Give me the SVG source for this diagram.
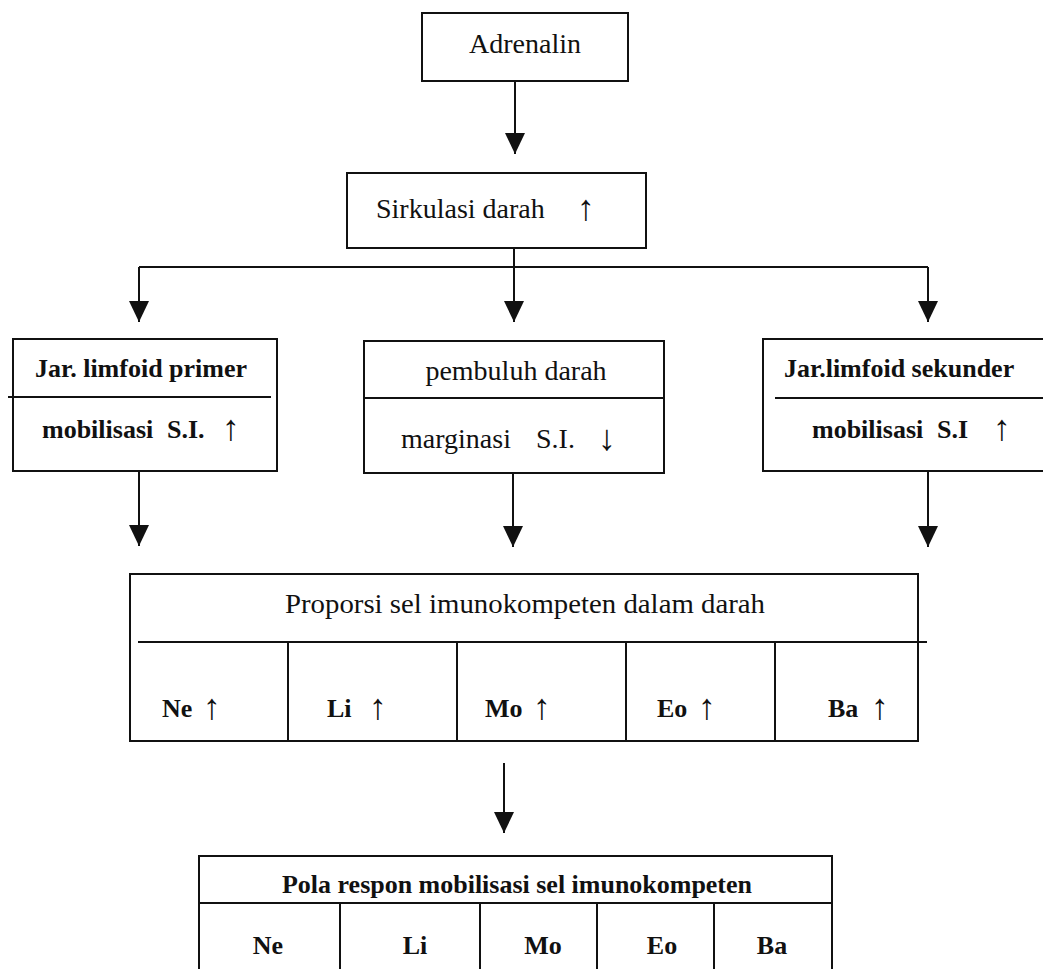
<svg xmlns="http://www.w3.org/2000/svg" width="1043" height="969" viewBox="0 0 1043 969">
<style>
.box{fill:none;stroke:#111;stroke-width:2}
.ln{stroke:#111;stroke-width:2;fill:none}
.t{font-family:"Liberation Serif","Times New Roman",serif;font-size:28px;fill:#111}
.b{font-family:"Liberation Serif","Times New Roman",serif;font-size:26px;font-weight:bold;fill:#111}
.ar{font-family:"Liberation Serif","DejaVu Serif",serif;font-size:36px;font-weight:normal;fill:#111}
.c{text-anchor:middle}
</style>
<defs>
<marker id="ah" markerUnits="userSpaceOnUse" markerWidth="21" markerHeight="20" refX="21" refY="10" orient="auto">
<path d="M0,0 L21,10 L0,20 z" fill="#111"/>
</marker>
</defs>
<rect width="1043" height="969" fill="#fff"/>

<g id="connectors">
<line class="ln" x1="515" y1="81" x2="515" y2="154" marker-end="url(#ah)"/>
<line class="ln" x1="514" y1="248" x2="514" y2="322" marker-end="url(#ah)"/>
<line class="ln" x1="139" y1="267" x2="928" y2="267"/>
<line class="ln" x1="139" y1="267" x2="139" y2="322" marker-end="url(#ah)"/>
<line class="ln" x1="928" y1="267" x2="928" y2="322" marker-end="url(#ah)"/>
<line class="ln" x1="139" y1="471" x2="139" y2="546" marker-end="url(#ah)"/>
<line class="ln" x1="513" y1="473" x2="513" y2="547" marker-end="url(#ah)"/>
<line class="ln" x1="928" y1="471" x2="928" y2="547" marker-end="url(#ah)"/>
<line class="ln" x1="504" y1="763" x2="504" y2="833" marker-end="url(#ah)"/>
</g>

<g id="adrenalin">
<rect class="box" x="422" y="13" width="206" height="68"/>
<text class="t c" x="525" y="53">Adrenalin</text>
</g>

<g id="sirkulasi">
<rect class="box" x="347" y="173" width="299" height="75"/>
<text class="t" x="376" y="218">Sirkulasi darah</text>
<text class="ar c" x="586" y="220">↑</text>
</g>

<g id="primer">
<rect class="box" x="13" y="339" width="264" height="132"/>
<line class="ln" x1="8" y1="397" x2="271" y2="397"/>
<text class="b" x="35" y="377">Jar. limfoid primer</text>
<text class="b" x="42" y="438">mobilisasi</text>
<text class="b" x="167" y="438">S.I.</text>
<text class="ar c" x="231" y="440">↑</text>
</g>

<g id="pembuluh">
<rect class="box" x="364" y="341" width="300" height="132"/>
<line class="ln" x1="364" y1="398" x2="664" y2="398"/>
<text class="t c" x="516" y="380">pembuluh darah</text>
<text class="t" x="401" y="448">marginasi</text>
<text class="t" x="536" y="448">S.I.</text>
<text class="ar c" x="607" y="450">↓</text>
</g>

<g id="sekunder">
<rect class="box" x="763" y="339" width="290" height="132"/>
<line class="ln" x1="775" y1="398" x2="1043" y2="398"/>
<text class="b" x="784" y="377">Jar.limfoid sekunder</text>
<text class="b" x="812" y="438">mobilisasi</text>
<text class="b" x="937" y="438">S.I</text>
<text class="ar c" x="1002" y="440">↑</text>
</g>

<g id="proporsi">
<rect class="box" x="130" y="574" width="788" height="167"/>
<line class="ln" x1="138" y1="642" x2="927" y2="642"/>
<line class="ln" x1="288" y1="642" x2="288" y2="741"/>
<line class="ln" x1="457" y1="642" x2="457" y2="741"/>
<line class="ln" x1="626" y1="642" x2="626" y2="741"/>
<line class="ln" x1="775" y1="642" x2="775" y2="741"/>
<text class="t" x="285" y="613" textLength="480" lengthAdjust="spacingAndGlyphs">Proporsi sel imunokompeten dalam darah</text>
<text class="b" x="162" y="717" font-size="28">Ne</text>
<text class="ar c" x="212" y="719">↑</text>
<text class="b" x="327" y="717" font-size="28">Li</text>
<text class="ar c" x="378" y="719">↑</text>
<text class="b" x="485" y="717" font-size="28">Mo</text>
<text class="ar c" x="542" y="719">↑</text>
<text class="b" x="657" y="717" font-size="28">Eo</text>
<text class="ar c" x="707" y="719">↑</text>
<text class="b" x="828" y="717" font-size="28">Ba</text>
<text class="ar c" x="880" y="719">↑</text>
</g>

<g id="pola">
<rect class="box" x="199" y="856" width="633" height="150"/>
<line class="ln" x1="199" y1="903" x2="832" y2="903"/>
<line class="ln" x1="340" y1="903" x2="340" y2="969"/>
<line class="ln" x1="480" y1="903" x2="480" y2="969"/>
<line class="ln" x1="597" y1="903" x2="597" y2="969"/>
<line class="ln" x1="714" y1="903" x2="714" y2="969"/>
<text class="b" x="282" y="893" font-size="27" textLength="470" lengthAdjust="spacingAndGlyphs">Pola respon mobilisasi sel imunokompeten</text>
<text class="b c" x="268" y="954" font-size="27">Ne</text>
<text class="b c" x="415" y="954" font-size="27">Li</text>
<text class="b c" x="543" y="954" font-size="27">Mo</text>
<text class="b c" x="662" y="954" font-size="27">Eo</text>
<text class="b c" x="772" y="954" font-size="27">Ba</text>
</g>
</svg>
